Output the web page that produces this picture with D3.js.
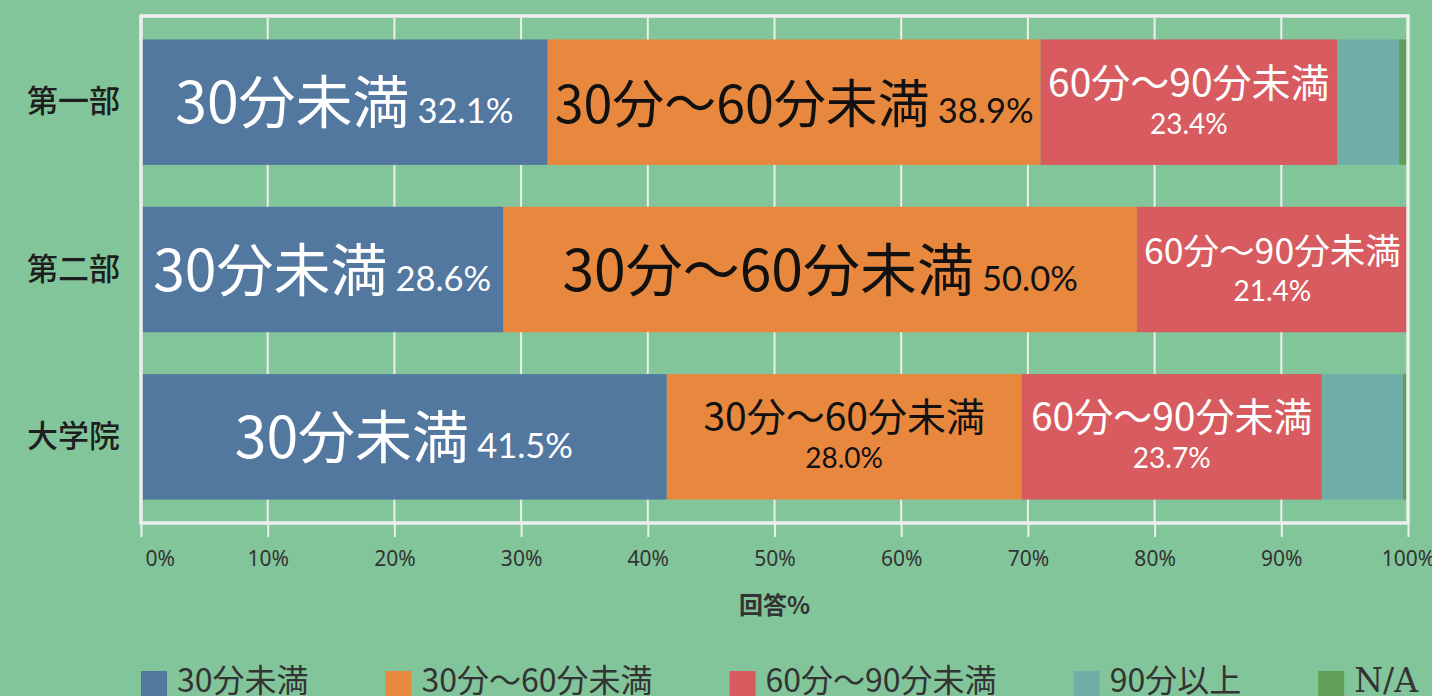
<!DOCTYPE html>
<html>
<head>
<meta charset="utf-8">
<script src="https://cdn.jsdelivr.net/npm/d3@7"></script>
<style>
  body { margin: 0; background: #82c59a; }
  svg { display: block; }
</style>
</head>
<body>
<script>
//Commute time survey - stacked horizontal bars

//groups (rows) and answer categories
var groups = ["第一部", "第二部", "大学院"];
var categories = ["30分未満", "30分〜60分未満", "60分〜90分未満", "90分以上", "N/A"];

//percent of answers per group, in category order
var firstDiv = [32.1, 38.9, 23.4, 4.9, 0.7];
var secondDiv = [28.6, 50.0, 21.4, 0, 0];
var gradSchool = [41.5, 28.0, 23.7, 6.4, 0.4];

//x axis tick values
var xTicks = [0, 10, 20, 30, 40, 50, 60, 70, 80, 90, 100];

window.onload = function(){

    var w = 1432, h = 696;
    var left = 141, right = 1408, top = 16, bottom = 523;

    var colors = ["#53789f", "#e8883f", "#d75b5f", "#71aeaa", "#609f58"];
    var textColors = ["#ffffff", "#111111", "#ffffff", "#ffffff", "#ffffff"];
    var cjk = "'Noto Sans CJK JP', 'Noto Sans', sans-serif";
    var pctFont = "Lato, 'Noto Sans', sans-serif";

    //build table for the stack generator
    var rows = [firstDiv, secondDiv, gradSchool];
    var table = groups.map(function(g, i){
        var row = {group: g};
        categories.forEach(function(c, j){ row[c] = rows[i][j]; });
        return row;
    });

    var series = d3.stack().keys(categories)(table);

    var svg = d3.select("body")
        .append("svg")
        .attr("width", w)
        .attr("height", h);

    var x = d3.scaleLinear()
        .domain([0, 100])
        .range([left, right]);

    var y = d3.scaleBand()
        .domain(groups)
        .range([top, bottom])
        .paddingInner(0.25)
        .paddingOuter(0.14);

    //vertical gridlines
    svg.append("g")
        .selectAll("line")
        .data(xTicks)
        .enter()
        .append("line")
        .attr("x1", function(d){ return x(d); })
        .attr("x2", function(d){ return x(d); })
        .attr("y1", top)
        .attr("y2", bottom)
        .style("stroke", "#eeeeee")
        .style("stroke-width", 2);

    //bars
    var layers = svg.append("g")
        .selectAll("g")
        .data(series)
        .enter()
        .append("g")
        .style("fill", function(d, i){ return colors[i]; });

    layers.selectAll("rect")
        .data(function(d){ return d; })
        .enter()
        .append("rect")
        .attr("x", function(d){ return x(d[0]); })
        .attr("width", function(d){ return x(d[1]) - x(d[0]); })
        .attr("y", function(d){ return y(d.data.group); })
        .attr("height", y.bandwidth());

    //plot frame
    svg.append("rect")
        .attr("x", left)
        .attr("y", top)
        .attr("width", right - left)
        .attr("height", bottom - top)
        .style("fill", "none")
        .style("stroke", "#eeeeee")
        .style("stroke-width", 3.5);

    //helper: text width per px of font size
    function unitWidth(str, family){
        var t = svg.append("text")
            .style("font-family", family)
            .style("font-size", "100px")
            .text(str);
        var len = t.node().getComputedTextLength() / 100;
        t.remove();
        return len;
    }

    //segment labels, sized to fit the segment
    var maxSingle = 57, maxDouble = 39;
    series.forEach(function(s, ci){
        var keyW = unitWidth(s.key, cjk);
        s.forEach(function(d){
            var segW = x(d[1]) - x(d[0]);
            if(segW < 150) return;
            var cx = (x(d[0]) + x(d[1])) / 2;
            var cy = y(d.data.group) + y.bandwidth() / 2;
            var pct = (d[1] - d[0]).toFixed(1) + "%";
            var pctW = unitWidth(pct, pctFont) * 34.5;
            var col = textColors[ci];

            var single = Math.min(maxSingle, (segW - 14 - pctW - 8) / keyW);
            if(single >= 45){
                var t = svg.append("text")
                    .attr("x", cx)
                    .attr("y", cy + 21)
                    .attr("text-anchor", "middle")
                    .style("fill", col);
                t.append("tspan")
                    .style("font-family", cjk)
                    .style("font-size", single + "px")
                    .text(s.key);
                t.append("tspan")
                    .attr("dx", 8)
                    .style("font-family", pctFont)
                    .style("font-size", "34.5px")
                    .text(pct);
            } else {
                var dbl = Math.min(maxDouble, (segW - 14) / keyW);
                svg.append("text")
                    .attr("x", cx)
                    .attr("y", cy - 5.5)
                    .attr("text-anchor", "middle")
                    .style("fill", col)
                    .style("font-family", cjk)
                    .style("font-size", dbl + "px")
                    .text(s.key);
                svg.append("text")
                    .attr("x", cx)
                    .attr("y", cy + 31.5)
                    .attr("text-anchor", "middle")
                    .style("fill", col)
                    .style("font-family", pctFont)
                    .style("font-size", "28px")
                    .text(pct);
            }
        });
    });

    //group labels
    svg.append("g")
        .selectAll("text")
        .data(groups)
        .enter()
        .append("text")
        .attr("x", 120)
        .attr("y", function(d){ return y(d) + y.bandwidth() / 2 + 10; })
        .attr("text-anchor", "end")
        .style("font-family", cjk)
        .style("font-size", "31px")
        .style("font-weight", 500)
        .style("fill", "#1e1e1e")
        .text(function(d){ return d; });

    //x axis
    var xAxis = d3.axisBottom(x)
        .tickValues(xTicks)
        .tickSize(14)
        .tickFormat(function(d){ return d + "%"; });

    var axis = svg.append("g")
        .attr("transform", "translate(0," + bottom + ")")
        .call(xAxis);

    axis.select(".domain").remove();
    axis.selectAll(".tick line")
        .style("stroke", "#eeeeee")
        .style("stroke-width", 2);
    axis.selectAll(".tick text")
        .attr("y", 43)
        .attr("dy", 0)
        .attr("text-anchor", function(d){ return d == 0 ? "start" : "middle"; })
        .attr("x", function(d){ return d == 0 ? 4 : 0; })
        .style("font-family", "'Noto Sans', sans-serif")
        .style("font-size", "21px")
        .style("fill", "#333");

    //axis title
    svg.append("text")
        .attr("x", (left + right) / 2)
        .attr("y", 614)
        .attr("text-anchor", "middle")
        .style("font-family", cjk)
        .style("font-size", "24px")
        .style("font-weight", "bold")
        .style("fill", "#333")
        .text("回答%");

    //legend, laid out item after item
    var lx = 141;
    categories.forEach(function(c, i){
        svg.append("rect")
            .attr("x", lx)
            .attr("y", 671)
            .attr("width", 26)
            .attr("height", 30)
            .style("fill", colors[i]);
        var t = svg.append("text")
            .attr("x", lx + 36)
            .attr("y", 692)
            .style("font-family", c == "N/A" ? "'DejaVu Serif', serif" : cjk)
            .style("font-size", c == "N/A" ? "33px" : "32px")
            .style("fill", "#333")
            .text(c);
        lx += 36 + t.node().getComputedTextLength() + 77;
    });
};
</script>
</body>
</html>
